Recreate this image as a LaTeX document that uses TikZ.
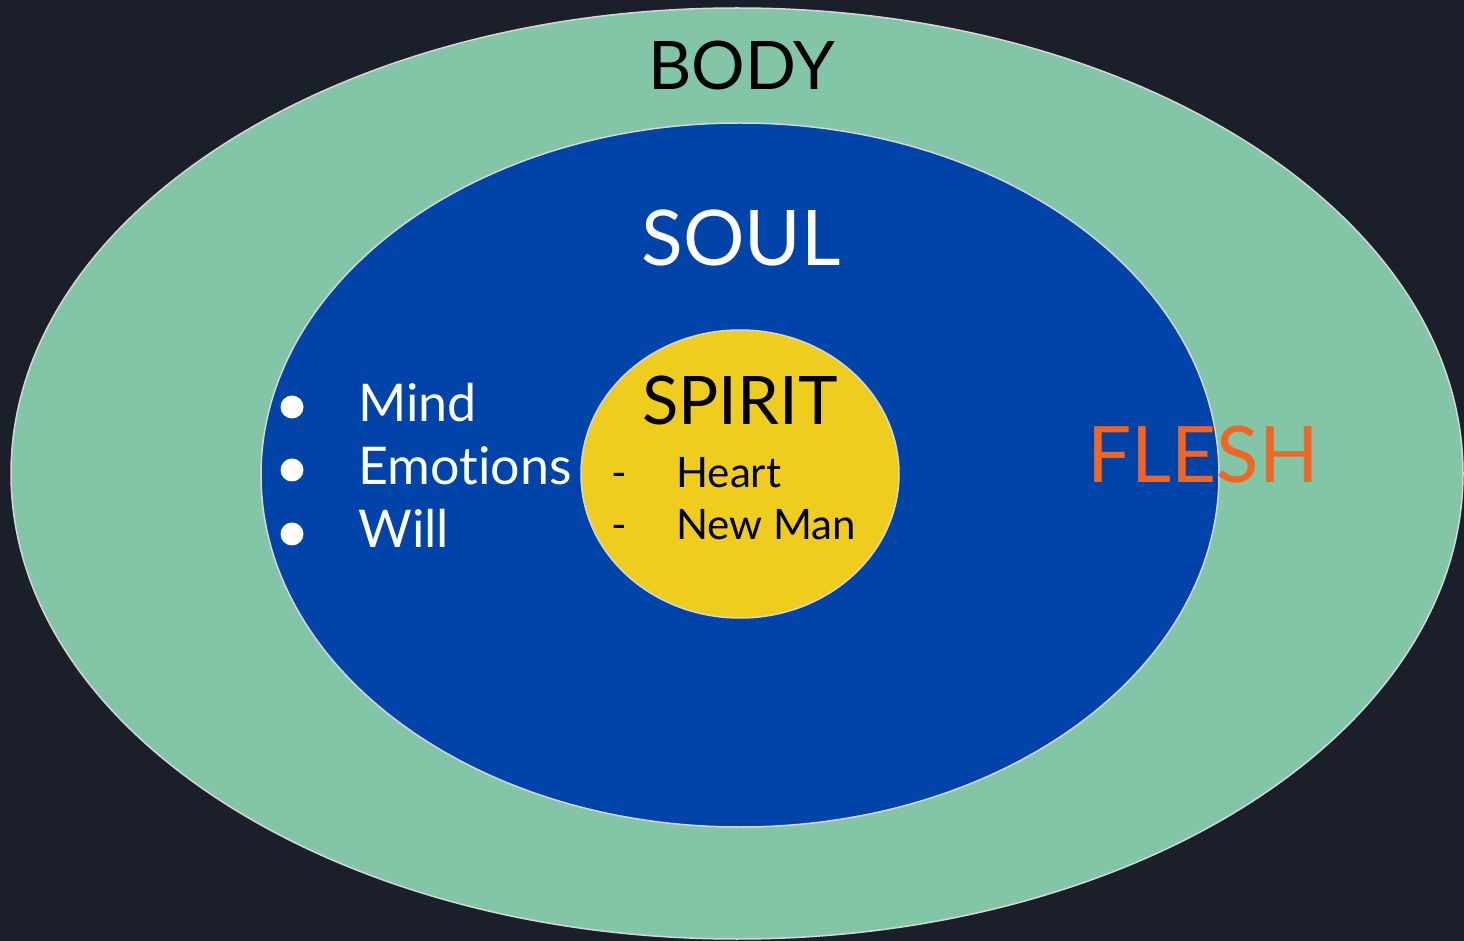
\documentclass[tikz,border=0pt]{standalone}
\usepackage{fontspec}
\setmainfont{Lato}[Ligatures=NoCommon]
\usetikzlibrary{shapes.geometric, positioning}
\definecolor{cBack}{RGB}{27,31,42}
\definecolor{cBody}{RGB}{130,198,167}
\definecolor{cSoul}{RGB}{0,68,170}
\definecolor{cSpirit}{RGB}{239,205,31}
\definecolor{cFlesh}{RGB}{242,101,34}
\definecolor{cRim}{RGB}{214,214,214}
\tikzset{
	layer/.style={ellipse, draw=cRim, line width=0.75pt, inner sep=0pt},
	lbl/.style={anchor=base, inner sep=0pt},
	item/.style={anchor=base west, inner sep=0pt},
}
\newcommand{\fsz}[1]{\fontsize{#1}{1.2\dimexpr#1pt\relax}\selectfont}

\begin{document}
\begin{tikzpicture}[x=0.5pt, y=-0.5pt,
		dot/.style={circle, fill=white, minimum size=11.5pt, inner sep=0pt}]
	\fill[cBack] (0,0) rectangle (1464,941);
	% nested layers
	\node[layer, fill=cBody, minimum width=726pt, minimum height=465.5pt] (body) at (737,473.5) {};
	\node[layer, fill=cSoul, minimum width=479pt, minimum height=352pt] (soul) at (740,475) {};
	\node[layer, fill=cSpirit, minimum width=159pt, minimum height=144pt] (spirit) at (740,474) {};
	% titles
	\node[lbl, font=\fsz{33.5}] (bodytxt) at (742,90) {BODY};
	\node[lbl, font=\fsz{38.4}, text=white] (soultxt) at (741,266) {SOUL};
	\node[lbl, font=\fsz{33.5}] (spirittxt) at (740,425) {SPIRIT};
	\node[lbl, font=\fsz{39}, text=cFlesh] (fleshtxt) at (1203,483) {FLESH};
	% soul items
	\node[item, font=\fsz{26}, text=white] (mind) at (358,422) {Mind};
	\node[item, font=\fsz{26}, text=white] (emo) at (358,485) {Emot\kern0pt ions};
	\node[item, font=\fsz{26}, text=white] (will) at (358,548) {Will};
	\node[dot] (d1) at (292,407) {};
	\node[dot] (d2) at (292,470) {};
	\node[dot] (d3) at (292,534) {};
	% spirit items
	\node[item, font=\fsz{21}] (heart) at (676,488) {Heart};
	\node[item, font=\fsz{21}] (newman) at (676,540) {New Man};
	\node[lbl, font=\fsz{21}] (h1) at (619,488) {-};
	\node[lbl, font=\fsz{21}] (h2) at (619,540) {-};
\end{tikzpicture}
\end{document}
